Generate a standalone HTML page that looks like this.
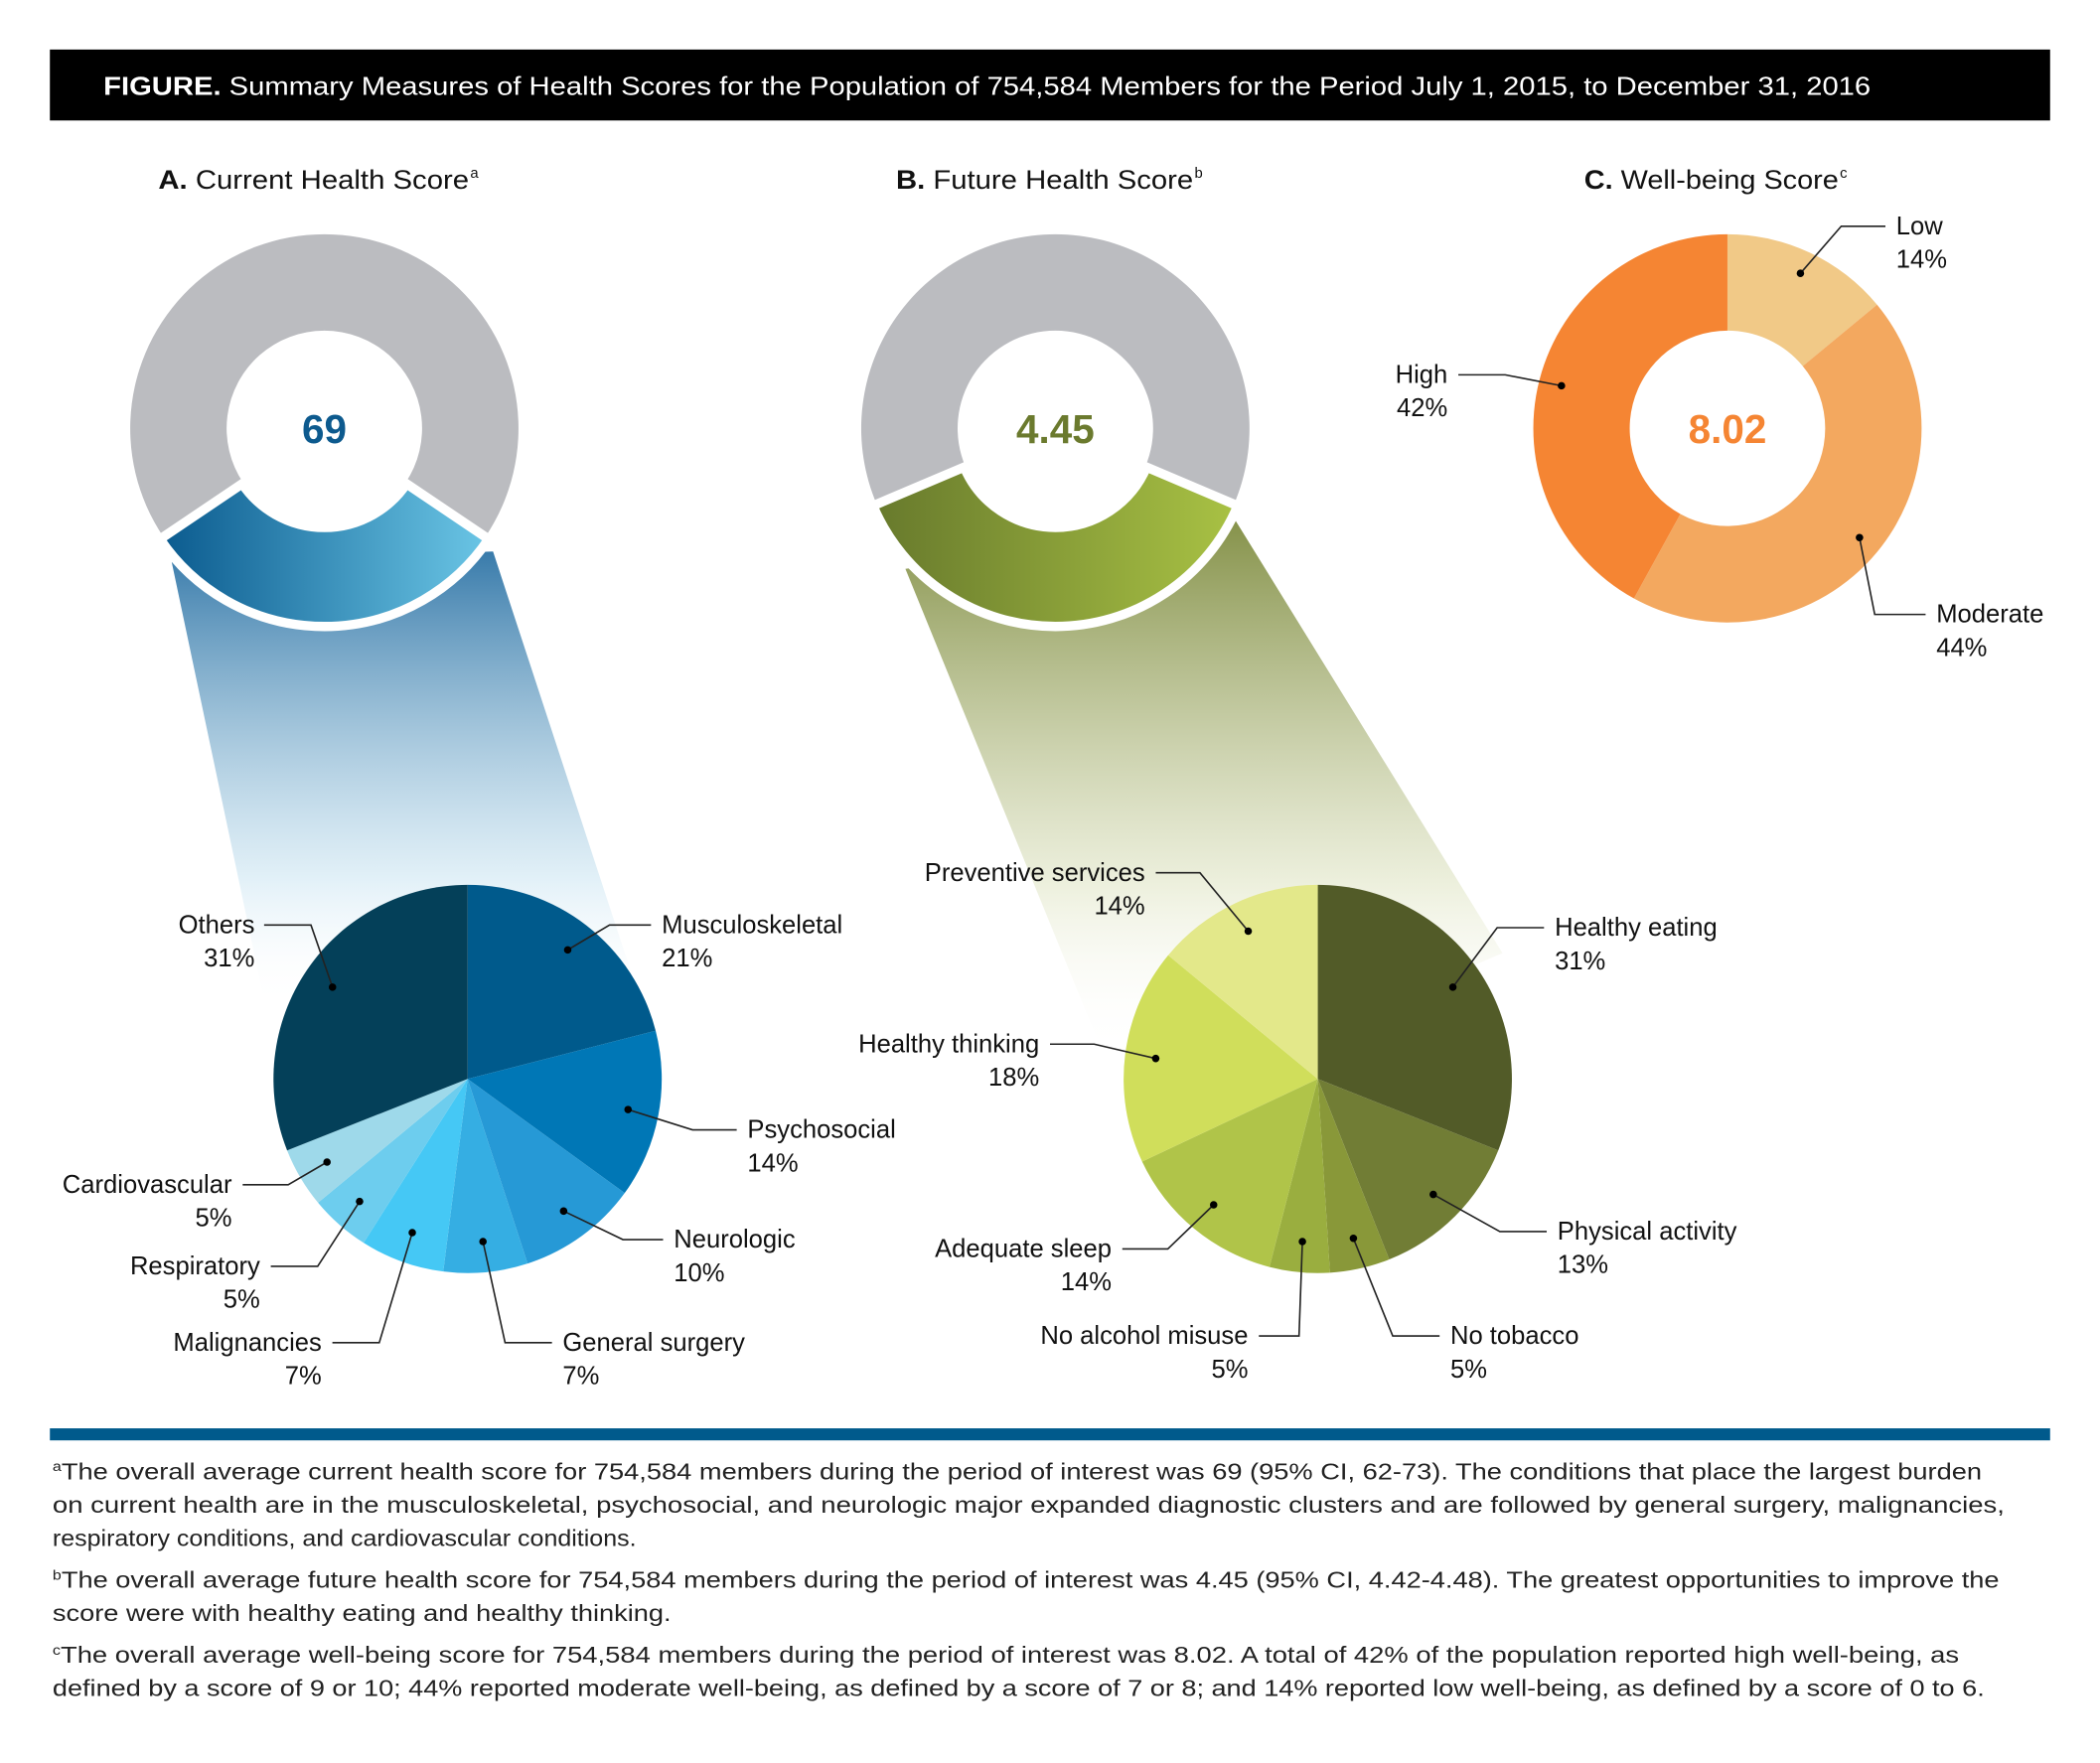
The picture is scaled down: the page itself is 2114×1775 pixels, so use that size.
<!DOCTYPE html>
<html><head><meta charset="utf-8"><style>
html,body{margin:0;padding:0;background:#fff}
svg{display:block}
text{font-family:"Liberation Sans",sans-serif}
</style></head><body>
<svg id="chart" width="2114" height="1775" viewBox="0 0 1568 1317" xmlns="http://www.w3.org/2000/svg">
<defs>
<linearGradient id="gBlueSeg" x1="0" x2="1" y1="0" y2="0"><stop offset="0" stop-color="#0a5a8e"/><stop offset="1" stop-color="#6bc6e6"/></linearGradient>
<linearGradient id="gGreenSeg" x1="0" x2="1" y1="0" y2="0"><stop offset="0" stop-color="#67792c"/><stop offset="1" stop-color="#a9c244"/></linearGradient>
<linearGradient id="gBlueBeam" x1="0" x2="0" y1="0" y2="1"><stop offset="0" stop-color="#2e74a6" stop-opacity="0.95"/><stop offset="0.65" stop-color="#cfe7f3" stop-opacity="0.6"/><stop offset="0.9" stop-color="#ffffff" stop-opacity="0"/></linearGradient>
<linearGradient id="gGreenBeam" x1="0" x2="0" y1="0" y2="1"><stop offset="0" stop-color="#7f8c40" stop-opacity="0.95"/><stop offset="0.62" stop-color="#e6ead0" stop-opacity="0.7"/><stop offset="0.9" stop-color="#ffffff" stop-opacity="0"/></linearGradient>
</defs>
<rect x="37" y="37" width="1494" height="53" fill="#000"/>
<text x="77" y="71" fill="#fff" font-size="19" textLength="1320" lengthAdjust="spacingAndGlyphs"><tspan font-weight="bold">FIGURE.</tspan> Summary Measures of Health Scores for the Population of 754,584 Members for the Period July 1, 2015, to December 31, 2016</text>
<text x="118" y="141" font-size="20" fill="#111" textLength="232" lengthAdjust="spacingAndGlyphs"><tspan font-weight="bold">A.</tspan> Current Health Score</text>
<text x="351" y="133" font-size="11" fill="#111">a</text>
<text x="669" y="141" font-size="20" fill="#111" textLength="222" lengthAdjust="spacingAndGlyphs"><tspan font-weight="bold">B.</tspan> Future Health Score</text>
<text x="892" y="133" font-size="11" fill="#111">b</text>
<text x="1183" y="141" font-size="20" fill="#111" textLength="190" lengthAdjust="spacingAndGlyphs"><tspan font-weight="bold">C.</tspan> Well-being Score</text>
<text x="1374" y="133" font-size="11" fill="#111">c</text>
<polygon points="128,420 368,412 492,790 206,790" fill="url(#gBlueBeam)"/>
<polygon points="676,425 922,388 1122,712 842,832" fill="url(#gGreenBeam)"/>
<g id="layer"></g>
<rect x="37" y="1067" width="1494" height="9" fill="#005a8c"/>
<g font-size="17" fill="#222">
<text x="39" y="1105" textLength="1441" lengthAdjust="spacingAndGlyphs"><tspan font-size="10" dy="-6">a</tspan><tspan dy="6">The overall average current health score for 754,584 members during the period of interest was 69 (95% CI, 62-73). The conditions that place the largest burden</tspan></text>
<text x="39" y="1130" textLength="1458" lengthAdjust="spacingAndGlyphs">on current health are in the musculoskeletal, psychosocial, and neurologic major expanded diagnostic clusters and are followed by general surgery, malignancies,</text>
<text x="39" y="1155" textLength="436" lengthAdjust="spacingAndGlyphs">respiratory conditions, and cardiovascular conditions.</text>
<text x="39" y="1186" textLength="1454" lengthAdjust="spacingAndGlyphs"><tspan font-size="10" dy="-6">b</tspan><tspan dy="6">The overall average future health score for 754,584 members during the period of interest was 4.45 (95% CI, 4.42-4.48). The greatest opportunities to improve the</tspan></text>
<text x="39" y="1211" textLength="462" lengthAdjust="spacingAndGlyphs">score were with healthy eating and healthy thinking.</text>
<text x="39" y="1242" textLength="1424" lengthAdjust="spacingAndGlyphs"><tspan font-size="10" dy="-6">c</tspan><tspan dy="6">The overall average well-being score for 754,584 members during the period of interest was 8.02. A total of 42% of the population reported high well-being, as</tspan></text>
<text x="39" y="1267" textLength="1443" lengthAdjust="spacingAndGlyphs">defined by a score of 9 or 10; 44% reported moderate well-being, as defined by a score of 7 or 8; and 14% reported low well-being, as defined by a score of 0 to 6.</text>
</g>
</svg>
<script>
const catsA = ["Musculoskeletal","Psychosocial","Neurologic","General surgery","Malignancies","Respiratory","Cardiovascular","Others"];
const valsA = [21,14,10,7,7,5,5,31];
const catsB = ["Healthy eating","Physical activity","No tobacco","No alcohol misuse","Adequate sleep","Healthy thinking","Preventive services"];
const valsB = [31,13,5,5,14,18,14];
const catsC = ["Low","Moderate","High"];
const valsC = [14,44,42];
const centerLabels = ["69","4.45","8.02"];
const colorsA = ["#005a8c","#0077b6","#2699d6","#35aee3","#45c8f5","#6dcdee","#9ed9ea","#044059"];
const colorsB = ["#525b28","#717d35","#899839","#9aae3f","#b0c449","#d0de5b","#e3e88a"];
const colorsC = ["#f1c987","#f3a85f","#f58533"];
const layoutA = [[494,691,"start",455,486],[558,844,"start",517,550],[503,926,"start",465,495],[420,1003,"start",377,412],[240,1003,"end",283,248],[194,946,"end",237,202],[173,885,"end",215,181],[190,691,"end",232,197]];
const layoutB = [[1161,693,"start",1118,1153],[1163,920,"start",1120,1155],[1083,998,"start",1040,1075],[932,998,"end",970,940],[830,933,"end",872,838],[776,780,"end",817,784],[855,652,"end",896,863]];
const layoutC = [[1416,169,"start",1375,1408],[1446,459,"start",1400,1438],[1081,280,"end",1124,1089]];
const NS="http://www.w3.org/2000/svg";
const layer=document.getElementById('layer');
function pt(cx,cy,r,a){const t=a*Math.PI/180;return [cx+r*Math.sin(t),cy-r*Math.cos(t)];}
function arcPath(cx,cy,r0,r1,a0,a1){
  const large=(a1-a0)>180?1:0;
  const p1=pt(cx,cy,r1,a0),p2=pt(cx,cy,r1,a1);
  if(r0<=0){return `M${cx},${cy}L${p1[0]},${p1[1]}A${r1},${r1} 0 ${large} 1 ${p2[0]},${p2[1]}Z`;}
  const p3=pt(cx,cy,r0,a1),p4=pt(cx,cy,r0,a0);
  return `M${p1[0]},${p1[1]}A${r1},${r1} 0 ${large} 1 ${p2[0]},${p2[1]}L${p3[0]},${p3[1]}A${r0},${r0} 0 ${large} 0 ${p4[0]},${p4[1]}Z`;
}
function mk(tag,attrs,parent){const e=document.createElementNS(NS,tag);for(const k in attrs)e.setAttribute(k,attrs[k]);(parent||layer).appendChild(e);return e;}
function slug(s){return s.toLowerCase().replace(/[^a-z0-9]+/g,'-');}
function drawPie(cx,cy,r0,r1,cats,vals,colors,layout,dotR,prefix){
  const total=vals.reduce((a,b)=>a+b,0);
  let acc=0;
  cats.forEach((c,i)=>{
    const a0=acc/total*360, a1=(acc+vals[i])/total*360; acc+=vals[i];
    const p=mk('path',{d:arcPath(cx,cy,r0,r1,a0,a1),fill:colors[i]});
    
    
    const mid=(a0+a1)/2, d=pt(cx,cy,dotR,mid), L=layout[i];
    const ln=mk('polyline',{points:`${d[0]},${d[1]} ${L[3]},${L[1]} ${L[4]},${L[1]}`,fill:'none',stroke:'#222','stroke-width':1.2});
    
    
    const dot=mk('circle',{cx:d[0],cy:d[1],r:2.8,fill:'#000'});
    
    
    const t=mk('text',{x:L[0],y:L[1]+6,'text-anchor':L[2],'font-size':19,fill:'#111'});
    t.textContent=c;
    
    
    const v=mk('text',{x:L[0],y:L[1]+31,'text-anchor':L[2],'font-size':19,fill:'#111'});
    v.textContent=vals[i]+'%';
    
    
  });
}
function scoreDonut(cx,cy,half,fillSeg,label,color,prefix){
  const g=mk('path',{d:arcPath(cx,cy,73,145,180+half,180-half+360),fill:'#bbbcc0'});
  
  
  const s=mk('path',{d:arcPath(cx,cy,74,148,180-half,180+half),fill:fillSeg,stroke:'#fff','stroke-width':7});
  
  
  const t=mk('text',{x:cx,y:cy+11,'text-anchor':'middle','font-size':30,'font-weight':'bold',fill:color});
  t.textContent=label;
  
  
}
scoreDonut(242,320,56,'url(#gBlueSeg)',centerLabels[0],'#0d5a8e','current-donut');
scoreDonut(788,320,67,'url(#gGreenSeg)',centerLabels[1],'#6b7a2e','future-donut');
drawPie(349,806,0,145,catsA,valsA,colorsA,layoutA,122,'current-pie');
drawPie(984,806,0,145,catsB,valsB,colorsB,layoutB,122,'future-pie');
drawPie(1290,320,73,145,catsC,valsC,colorsC,layoutC,128,'wellbeing-donut');
const ct=mk('text',{x:1290,y:331,'text-anchor':'middle','font-size':30,'font-weight':'bold',fill:'#f58533'});
ct.textContent=centerLabels[2];


</script>
</body></html>
